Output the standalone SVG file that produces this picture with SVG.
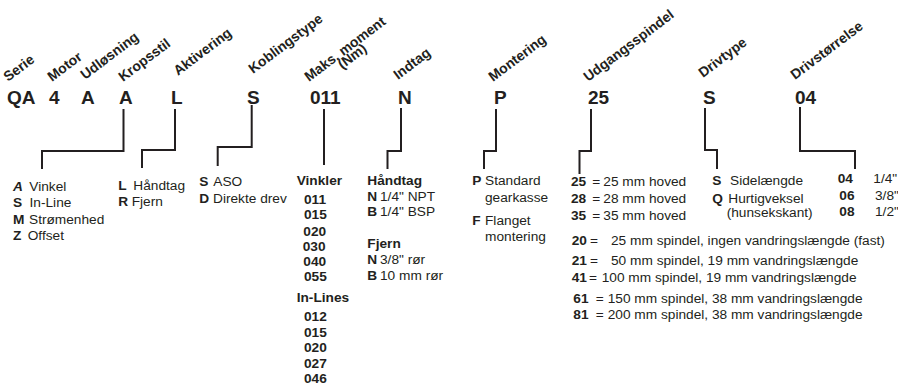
<svg xmlns="http://www.w3.org/2000/svg" width="898" height="385" viewBox="0 0 898 385">
<style>
text{font-family:"Liberation Sans",Arial,Helvetica,sans-serif;fill:#231f20}
.h{font-size:14px;font-weight:bold}
.c{font-size:19px;font-weight:bold}
.t{font-size:13.7px}
.b{font-weight:bold}
.bi{font-weight:bold;font-style:italic}
.ln{fill:none;stroke:#231f20;stroke-width:2}
</style>
<rect width="898" height="385" fill="#fff"/>
<g id="headers">
<text class="h" x="8" y="82" transform="rotate(-37 8 82)">Serie</text>
<text class="h" x="52" y="82" transform="rotate(-37 52 82)">Motor</text>
<text class="h" x="85" y="80" transform="rotate(-37 85 80)">Udløsning</text>
<text class="h" x="123" y="82" transform="rotate(-37 123 82)">Kropsstil</text>
<text class="h" x="178" y="76" transform="rotate(-37 178 76)">Aktivering</text>
<text class="h" x="253" y="74" transform="rotate(-37 253 74)">Koblingstype</text>
<g transform="translate(309 82) rotate(-37)">
<text class="h" x="0" y="0">Maks. moment</text>
<text class="h" x="34" y="10">(Nm)</text>
</g>
<text class="h" x="398" y="80" transform="rotate(-37 398 80)">Indtag</text>
<text class="h" x="493" y="82" transform="rotate(-37 493 82)">Montering</text>
<text class="h" x="588" y="82" transform="rotate(-37 588 82)">Udgangsspindel</text>
<text class="h" x="703" y="78" transform="rotate(-37 703 78)">Drivtype</text>
<text class="h" x="795" y="80" transform="rotate(-37 795 80)">Drivstørrelse</text>
</g>
<g id="codes">
<text class="c" x="7" y="104">QA</text>
<text class="c" x="49" y="104">4</text>
<text class="c" x="81" y="104">A</text>
<text class="c" x="119" y="104">A</text>
<text class="c" x="171" y="104">L</text>
<text class="c" x="247" y="104">S</text>
<text class="c" x="310" y="104">011</text>
<text class="c" x="398" y="104">N</text>
<text class="c" x="494" y="104">P</text>
<text class="c" x="588" y="104">25</text>
<text class="c" x="703" y="104">S</text>
<text class="c" x="795" y="104">04</text>
</g>
<g id="connectors">
<path class="ln" d="M123.5,109 V151 H42 V169"/>
<path class="ln" d="M175,109 V150 H142 V168"/>
<path class="ln" d="M251.7,105 V147 H217.7 V166"/>
<path class="ln" d="M324,109 V165"/>
<path class="ln" d="M401,108 V151 H387.5 V169"/>
<path class="ln" d="M496,109 V151 H484 V169"/>
<path class="ln" d="M591,109 V151 H579.5 V174"/>
<path class="ln" d="M705,108 V150 H717 V169"/>
<path class="ln" d="M800,107 V151 H855 V169"/>
</g>
<g id="kropsstil">
<text class="t bi" x="13" y="190.5">A</text><text class="t" x="29.3" y="190.5">Vinkel</text>
<text class="t b" x="13" y="207">S</text><text class="t" x="29.5" y="207">In-Line</text>
<text class="t b" x="13" y="223.5">M</text><text class="t" x="29" y="223.5">Strømenhed</text>
<text class="t b" x="13" y="240">Z</text><text class="t" x="27.7" y="240">Offset</text>
</g>
<g id="aktivering">
<text class="t b" x="118.3" y="189.5">L</text><text class="t" x="133.3" y="189.5">Håndtag</text>
<text class="t b" x="118.3" y="206">R</text><text class="t" x="131.7" y="206">Fjern</text>
</g>
<g id="koblingstype">
<text class="t b" x="199.3" y="185.7">S</text><text class="t" x="213.3" y="185.7">ASO</text>
<text class="t b" x="199.3" y="202.5">D</text><text class="t" x="213" y="202.5">Direkte drev</text>
</g>
<g id="moment">
<text class="t b" x="296.7" y="185.3">Vinkler</text>
<text class="t b" x="304" y="204">011</text>
<text class="t b" x="304" y="219">015</text>
<text class="t b" x="303.3" y="235.5">020</text>
<text class="t b" x="302.7" y="250.5">030</text>
<text class="t b" x="303.3" y="265.5">040</text>
<text class="t b" x="304" y="280.5">055</text>
<text class="t b" x="296.7" y="301.5">In-Lines</text>
<text class="t b" x="304" y="321">012</text>
<text class="t b" x="304" y="336.5">015</text>
<text class="t b" x="304" y="352">020</text>
<text class="t b" x="304" y="367.5">027</text>
<text class="t b" x="304" y="383">046</text>
</g>
<g id="indtag">
<text class="t b" x="367.3" y="185.3">Håndtag</text>
<text class="t b" x="367.3" y="200.7">N</text><text class="t" x="380" y="200.7">1/4" NPT</text>
<text class="t b" x="367.3" y="215.7">B</text><text class="t" x="380" y="215.7">1/4" BSP</text>
<text class="t b" x="367.3" y="247.7">Fjern</text>
<text class="t b" x="367.3" y="264">N</text><text class="t" x="380" y="264">3/8" rør</text>
<text class="t b" x="367.3" y="280">B</text><text class="t" x="380" y="280">10 mm rør</text>
</g>
<g id="montering">
<text class="t b" x="472.3" y="185.3">P</text><text class="t" x="485" y="185.3">Standard</text>
<text class="t" x="485" y="201.5">gearkasse</text>
<text class="t b" x="472.3" y="225">F</text><text class="t" x="485" y="225">Flanget</text>
<text class="t" x="485" y="240.7">montering</text>
</g>
<g id="udgangsspindel">
<text class="t b" x="571" y="185.5">25</text><text class="t" x="592.3" y="185.5">=</text><text class="t" x="603.3" y="185.5">25 mm hoved</text>
<text class="t b" x="571" y="203">28</text><text class="t" x="592.3" y="203">=</text><text class="t" x="603.3" y="203">28 mm hoved</text>
<text class="t b" x="571" y="220">35</text><text class="t" x="592.3" y="220">=</text><text class="t" x="603.3" y="220">35 mm hoved</text>
<text class="t b" x="571.7" y="245">20</text><text class="t" x="590" y="245">=</text><text class="t" x="611" y="245">25 mm spindel, ingen vandringslængde (fast)</text>
<text class="t b" x="571.7" y="265">21</text><text class="t" x="590" y="265">=</text><text class="t" x="611" y="265">50 mm spindel, 19 mm vandringslængde</text>
<text class="t b" x="571.7" y="281.7">41</text><text class="t" x="589" y="281.7">=</text><text class="t" x="601.7" y="281.7">100 mm spindel, 19 mm vandringslængde</text>
<text class="t b" x="573.3" y="302.5">61</text><text class="t" x="595.7" y="302.5">=</text><text class="t" x="607.7" y="302.5">150 mm spindel, 38 mm vandringslængde</text>
<text class="t b" x="573.3" y="319">81</text><text class="t" x="595.7" y="319">=</text><text class="t" x="607.7" y="319">200 mm spindel, 38 mm vandringslængde</text>
</g>
<g id="drivtype">
<text class="t b" x="712.3" y="184.5">S</text><text class="t" x="730" y="184.5">Sidelængde</text>
<text class="t b" x="712.3" y="202.5">Q</text><text class="t" x="728.3" y="202.5">Hurtigveksel</text>
<text class="t" x="726.7" y="217">(hunsekskant)</text>
</g>
<g id="drivstorrelse">
<text class="t b" x="837.7" y="183">04</text><text class="t" x="873.3" y="183">1/4"</text>
<text class="t b" x="839.3" y="199.5">06</text><text class="t" x="875" y="199.5">3/8"</text>
<text class="t b" x="839.3" y="216">08</text><text class="t" x="875" y="216">1/2"</text>
</g>
</svg>
